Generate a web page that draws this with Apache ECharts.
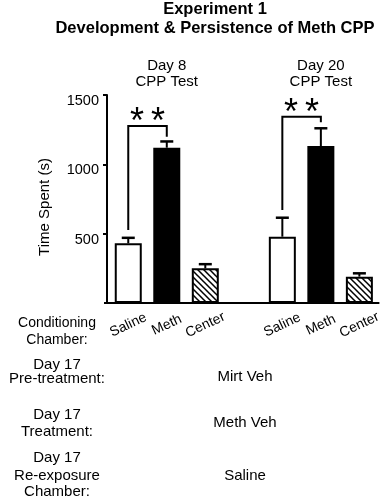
<!DOCTYPE html>
<html>
<head>
<meta charset="utf-8">
<script src="https://cdn.jsdelivr.net/npm/echarts@6/dist/echarts.min.js"></script>
<style>html,body{margin:0;padding:0;background:#fff}#c{width:384px;height:500px}</style>
</head>
<body>
<div id="c"></div>
<script>
// ---- data ----
const categories = ['Saline', 'Meth', 'Center', '', 'Saline', 'Meth', 'Center'];
const barType = ['open', 'filled', 'hatched', null, 'open', 'filled', 'hatched'];
const meanValues = [430, 1120, 250, null, 478, 1132, 190];
const semValues = [40, 45, 30, null, 137, 128, 24];
const yTicks = [500, 1000, 1500];
const bracketFrom = [0, 4];
const bracketTo = [1, 5];
const bracketLeftEnd = [526, 671];
const bracketTop = [1276, 1343];
const bracketRightEnd = [1199, 1303];
const bracketMark = ['*', '*'];
const titleLines = ['Experiment 1', 'Development & Persistence of Meth CPP'];
const testHeaders = [['Day 8', 'CPP Test'], ['Day 20', 'CPP Test']];
const testHeaderCat = [1, 5];
const yName = 'Time Spent (s)';
const rowLabels = [['Conditioning', 'Chamber:'], ['Day 17', 'Pre-treatment:'], ['Day 17', 'Treatment:'], ['Day 17', 'Re-exposure', 'Chamber:']];
const rowValues = [null, 'Mirt Veh', 'Meth Veh', 'Saline'];

const FONT = '"Liberation Sans", Arial, Helvetica, sans-serif';

// hatch pattern
const pc = document.createElement('canvas');
pc.width = 6; pc.height = 6;
const g = pc.getContext('2d');
g.fillStyle = '#fff'; g.fillRect(0, 0, 6, 6);
g.strokeStyle = '#000'; g.lineWidth = 1.5;
g.beginPath();
g.moveTo(-1, -1); g.lineTo(7, 7);
g.moveTo(-1, 5); g.lineTo(1, 7);
g.moveTo(5, -1); g.lineTo(7, 1);
g.stroke();

function styleFor(t) {
  if (t === 'filled') return { color: '#000', borderColor: '#000', borderWidth: 2 };
  if (t === 'hatched') return { color: { image: pc, repeat: 'repeat' }, borderColor: '#000', borderWidth: 2 };
  return { color: '#fff', borderColor: '#000', borderWidth: 2 };
}

const barData = meanValues.map((v, i) => v == null ? null : { value: v, itemStyle: styleFor(barType[i]) });
const errData = [];
meanValues.forEach((v, i) => { if (v != null) errData.push([i, v, semValues[i]]); });
const bracketData = bracketFrom.map((f, i) => [f, bracketTo[i], bracketLeftEnd[i], bracketTop[i], bracketRightEnd[i]]);

const chart = echarts.init(document.getElementById('c'), null, { renderer: 'canvas' });

function star(s, x, y) {
  return { type: 'text', x: x, y: y,
    style: { text: s, fontSize: 36, fontFamily: FONT, fill: '#000', align: 'center', verticalAlign: 'middle' } };
}

const option = {
  animation: false,
  backgroundColor: '#fff',
  textStyle: { fontFamily: FONT, color: '#000' },
  grid: { left: 109, right: 4, top: 95, bottom: 197, containLabel: false },
  xAxis: {
    type: 'category',
    data: categories,
    axisLine: { show: true, lineStyle: { color: '#000', width: 2 } },
    axisTick: { show: false },
    axisLabel: {
      interval: 0, rotate: 25, align: 'center', verticalAlign: 'middle', margin: 22,
      fontSize: 14, color: '#000', fontFamily: FONT
    },
    splitLine: { show: false }
  },
  yAxis: {
    type: 'value', min: 0, max: 1500, interval: 500, offset: 2,
    axisLine: { show: true, lineStyle: { color: '#000', width: 2 } },
    axisTick: { show: true, length: 4, lineStyle: { color: '#000', width: 2 }, customValues: yTicks },
    axisLabel: { customValues: yTicks, formatter: function (v) { return String(v); },
      fontSize: 14.5, color: '#000', margin: 8, fontFamily: FONT, verticalAlign: 'top', lineHeight: 12 },
    splitLine: { show: false }
  },
  series: [
    { type: 'bar', data: barData, barWidth: 27, z: 2 },
    {
      type: 'custom', data: errData, z: 3,
      encode: { x: 0, y: 1 },
      renderItem: function (params, api) {
        const x = api.value(0), m = api.value(1), e = api.value(2);
        const p0 = api.coord([x, m]);
        const p1 = api.coord([x, m + e]);
        return {
          type: 'group', children: [
            { type: 'line', shape: { x1: p0[0], y1: p0[1], x2: p1[0], y2: p1[1] }, style: { stroke: '#000', lineWidth: 2 } },
            { type: 'line', shape: { x1: p1[0] - 6.5, y1: p1[1], x2: p1[0] + 6.5, y2: p1[1] }, style: { stroke: '#000', lineWidth: 2.5 } }
          ]
        };
      }
    },
    {
      type: 'custom', data: bracketData, z: 4,
      encode: { x: 0, y: 3 },
      renderItem: function (params, api) {
        const f = api.value(0), t = api.value(1);
        const a = api.coord([f, api.value(2)]);
        const b = api.coord([f, api.value(3)]);
        const c = api.coord([t, api.value(3)]);
        const d = api.coord([t, api.value(4)]);
        const mx = (b[0] + c[0]) / 2;
        const m = bracketMark[params.dataIndex];
        return {
          type: 'group', children: [
            { type: 'polyline', shape: { points: [a, b, c, d] }, style: { stroke: '#000', lineWidth: 2, fill: null } },
            star(m, mx - 10.5, b[1] - 3),
            star(m, mx + 10.5, b[1] - 3)
          ]
        };
      }
    }
  ]
};
chart.setOption(option);

// text blocks
const graphics = [];
function txt(s, x, y, size, weight) {
  graphics.push({ type: 'text', x: x, y: y, style: { text: s, fontSize: size, fontWeight: weight || 'normal', fontFamily: FONT, fill: '#000', align: 'center', verticalAlign: 'middle' } });
}
txt(titleLines[0], 215, 9, 16.5, 'bold');
txt(titleLines[1], 215, 28.5, 16.5, 'bold');
testHeaders.forEach((h, i) => {
  const px = chart.convertToPixel({ xAxisIndex: 0 }, testHeaderCat[i]);
  txt(h[0], px, 66, 15);
  txt(h[1], px, 82, 15);
});
graphics.push({ type: 'text', x: 45, y: 207, rotation: Math.PI / 2,
  style: { text: yName, fontSize: 15, fontFamily: FONT, fill: '#000', align: 'center', verticalAlign: 'middle' } });
const rowYs = [[323, 340], [365, 379], [415, 432], [458, 476, 492]];
const rowValY = [null, 377, 423, 476];
rowLabels.forEach((lines, i) => {
  lines.forEach((s, j) => txt(s, 57, rowYs[i][j], i === 0 ? 14 : 15));
  if (rowValues[i]) txt(rowValues[i], 245, rowValY[i], 15);
});
graphics.push({ type: 'line', shape: { x1: 104, y1: 303, x2: 110, y2: 303 }, style: { stroke: '#000', lineWidth: 2 } });
chart.setOption({ graphic: graphics });
</script>
</body>
</html>
